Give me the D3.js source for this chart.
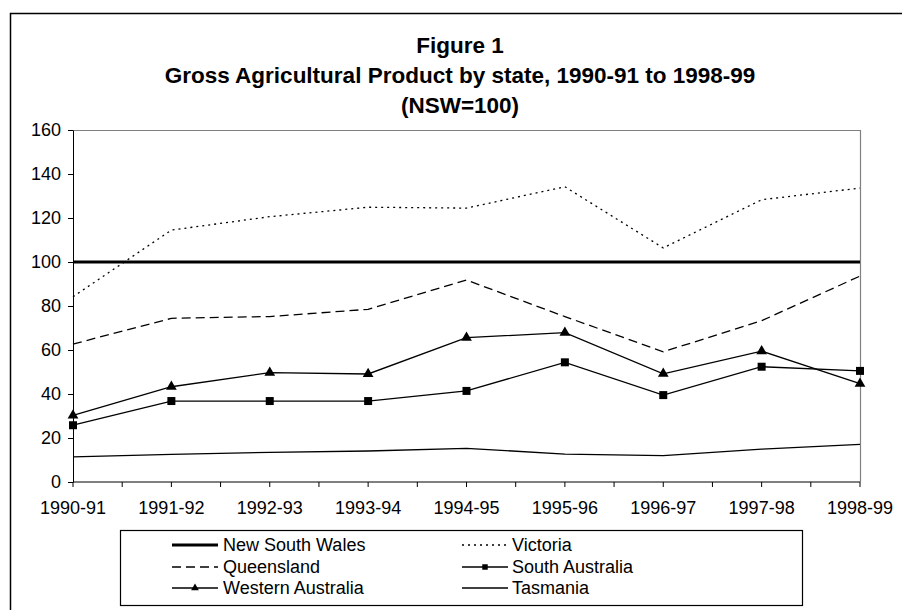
<!DOCTYPE html>
<html>
<head>
<meta charset="utf-8">
<script src="https://cdn.jsdelivr.net/npm/d3@7"></script>
<style>
  html, body { margin: 0; padding: 0; background: #fff; }
  svg { display: block; font-family: "Liberation Sans", Arial, sans-serif; }
</style>
</head>
<body>
<svg id="chart" width="902" height="610"></svg>
<script>
const categories = ["1990-91","1991-92","1992-93","1993-94","1994-95","1995-96","1996-97","1997-98","1998-99"];
const nswValues = [100,100,100,100,100,100,100,100,100];
const vicValues = [84.2,114.5,120.6,124.9,124.5,134.2,106.4,128.3,133.6];
const qldValues = [62.7,74.4,75.2,78.5,91.8,75.2,59.2,73.3,93.6];
const saValues  = [25.8,36.8,36.8,36.8,41.4,54.4,39.5,52.4,50.5];
const waValues  = [30.3,43.3,49.7,49.1,65.6,67.9,49.2,59.5,44.7];
const tasValues = [11.4,12.6,13.5,14.1,15.3,12.7,12.0,14.9,17.1];
const yTicks = [0,20,40,60,80,100,120,140,160];
const titleLines = ["Figure 1","Gross Agricultural Product by state, 1990-91 to 1998-99","(NSW=100)"];

const series = [
  {name:"New South Wales", values:nswValues, width:3, dash:null, marker:null},
  {name:"Victoria", values:vicValues, width:1.3, dash:"2,4", marker:null},
  {name:"Queensland", values:qldValues, width:1.3, dash:"9,5", marker:null},
  {name:"South Australia", values:saValues, width:1.3, dash:null, marker:"square"},
  {name:"Western Australia", values:waValues, width:1.3, dash:null, marker:"triangle"},
  {name:"Tasmania", values:tasValues, width:1.3, dash:null, marker:null}
];

const svg = d3.select("#chart");
const W = 902, H = 610;
const plot = {left:73, right:860, top:130, bottom:482};

// outer frame
svg.append("rect").attr("x",10.5).attr("y",13.5).attr("width",W).attr("height",H)
  .attr("fill","#fff").attr("stroke","#000").attr("stroke-width",1.5);

// title
const title = svg.append("text").attr("text-anchor","middle").attr("font-weight","bold").attr("font-size",22.5);
titleLines.forEach((t,i)=>{
  title.append("tspan").attr("x",460).attr("y",53+i*30).text(t);
});

const x = d3.scalePoint().domain(categories).range([plot.left, plot.right]);
const y = d3.scaleLinear().domain([0,160]).range([plot.bottom, plot.top]);

// plot frame (top and right grey)
svg.append("path")
  .attr("d",`M${plot.left},${plot.top+0.5}H${plot.right+0.5}V${plot.bottom}`)
  .attr("fill","none").attr("stroke","#808080").attr("stroke-width",1.2);

// y axis
const yAxis = d3.axisLeft(y).tickValues(yTicks).tickSize(5).tickPadding(7).tickSizeOuter(0);
const gy = svg.append("g").attr("transform",`translate(${plot.left},0)`).call(yAxis);
gy.selectAll("text").attr("font-size",18).attr("font-family","Liberation Sans, Arial, sans-serif").attr("fill","#000");
gy.selectAll("line,path").attr("stroke","#000");

// x axis with half-step ticks
const step = x.step();
const gx = svg.append("g").attr("transform",`translate(0,${plot.bottom})`);
gx.append("line").attr("x1",plot.left).attr("x2",plot.right).attr("stroke","#000");
const tickPos = [];
categories.forEach((c,i)=>{ tickPos.push(x(c)); if(i<categories.length-1) tickPos.push(x(c)+step/2); });
gx.selectAll("line.tk").data(tickPos).enter().append("line").attr("class","tk")
  .attr("x1",d=>d).attr("x2",d=>d).attr("y1",0).attr("y2",5).attr("stroke","#000");
gx.selectAll("text").data(categories).enter().append("text")
  .attr("x",d=>x(d)).attr("y",32).attr("text-anchor","middle").attr("font-size",18).text(d=>d);

// lines
const line = d3.line().x((d,i)=>x(categories[i])).y(d=>y(d));
const gl = svg.append("g");
series.forEach(s=>{
  gl.append("path").datum(s.values).attr("d",line).attr("fill","none")
    .attr("stroke","#000").attr("stroke-width",s.width)
    .attr("stroke-dasharray",s.dash);
});
const sq = d3.symbol().type(d3.symbolSquare).size(64);
const tri = d3.symbol().type(d3.symbolTriangle).size(50);
series.forEach(s=>{
  if(!s.marker) return;
  gl.selectAll(null).data(s.values).enter().append("path")
    .attr("d", s.marker==="square"?sq:tri)
    .attr("transform",(d,i)=>`translate(${x(categories[i])},${y(d)})`)
    .attr("fill","#000");
});

// legend
const lg = svg.append("g");
lg.append("rect").attr("x",120.5).attr("y",530.5).attr("width",682).attr("height",75)
  .attr("fill","#fff").attr("stroke","#000").attr("stroke-width",1.2);
const cols = [{lx:172, tx:223},{lx:462, tx:512}];
const rows = [545,567,588];
series.forEach((s,i)=>{
  const c = cols[i%2], r = rows[Math.floor(i/2)];
  lg.append("line").attr("x1",c.lx).attr("x2",c.lx+46).attr("y1",r).attr("y2",r)
    .attr("stroke","#000").attr("stroke-width",s.width).attr("stroke-dasharray",s.dash);
  if(s.marker){
    lg.append("path").attr("d", d3.symbol().type(s.marker==="square"?d3.symbolSquare:d3.symbolTriangle).size(s.marker==="square"?30:26))
      .attr("transform",`translate(${c.lx+23},${r})`).attr("fill","#000");
  }
  lg.append("text").attr("x",c.tx).attr("y",r+6).attr("font-size",18).text(s.name);
});
</script>
</body>
</html>
